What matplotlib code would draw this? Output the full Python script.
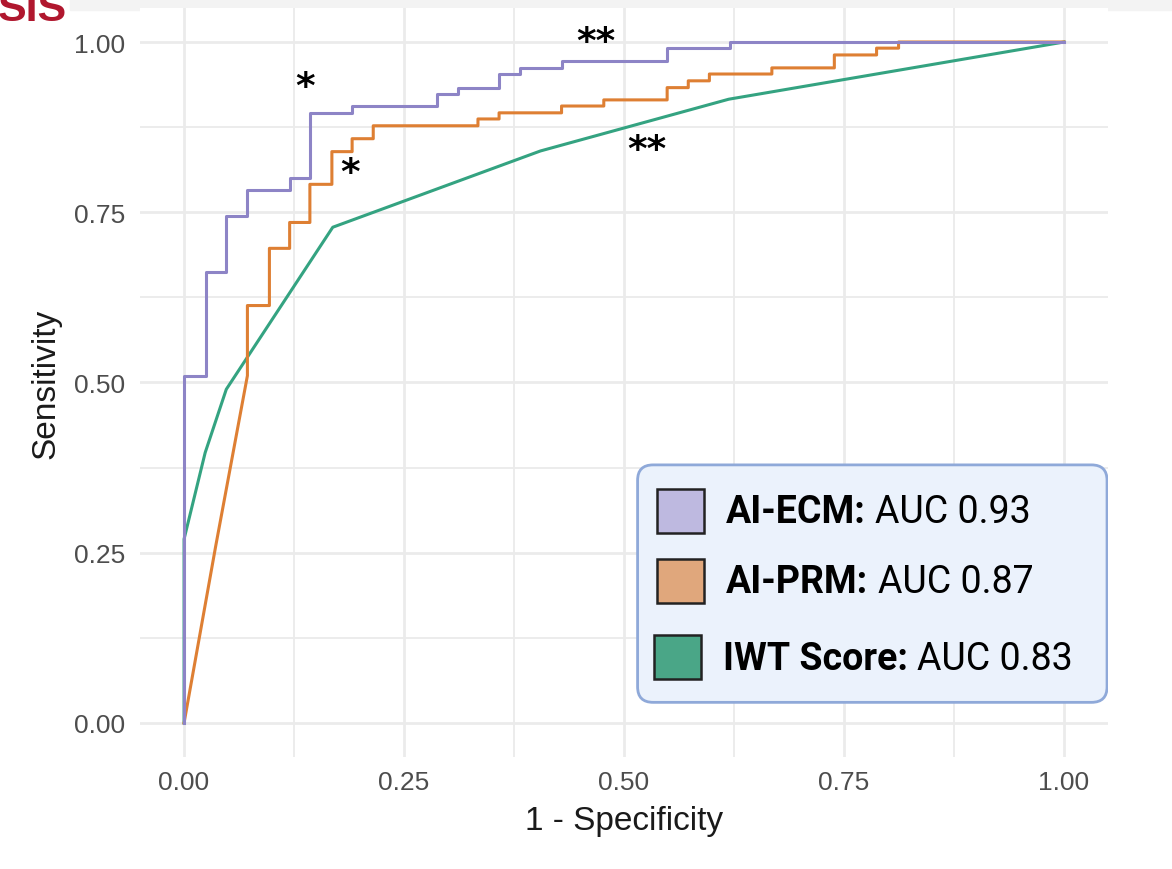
import matplotlib
matplotlib.use("Agg")
import matplotlib.pyplot as plt
from matplotlib.patches import FancyBboxPatch, Rectangle

# ROC curve vertices (1 - specificity, sensitivity)
ecm_fpr = [0, 0, 0.025, 0.025, 0.048, 0.048, 0.072, 0.072, 0.12, 0.12, 0.143, 0.143,
           0.191, 0.191, 0.287, 0.287, 0.311, 0.311, 0.358, 0.358, 0.382, 0.382,
           0.429, 0.429, 0.549, 0.549, 0.62, 0.62, 1.0]
ecm_tpr = [0, 0.51, 0.51, 0.662, 0.662, 0.745, 0.745, 0.783, 0.783, 0.801, 0.801, 0.896,
           0.896, 0.906, 0.906, 0.924, 0.924, 0.933, 0.933, 0.953, 0.953, 0.962,
           0.962, 0.972, 0.972, 0.991, 0.991, 1.0, 1.0]

prm_fpr = [0, 0.036, 0.072, 0.072, 0.097, 0.097, 0.12, 0.12, 0.143, 0.143, 0.168, 0.168,
           0.191, 0.191, 0.215, 0.215, 0.334, 0.334, 0.358, 0.358, 0.429, 0.429,
           0.477, 0.477, 0.549, 0.549, 0.573, 0.573, 0.597, 0.597, 0.668, 0.668,
           0.739, 0.739, 0.787, 0.787, 0.812, 0.812, 1.0]
prm_tpr = [0, 0.26, 0.51, 0.613, 0.613, 0.697, 0.697, 0.735, 0.735, 0.791, 0.791, 0.839,
           0.839, 0.858, 0.858, 0.877, 0.877, 0.887, 0.887, 0.896, 0.896, 0.906,
           0.906, 0.915, 0.915, 0.933, 0.933, 0.943, 0.943, 0.953, 0.953, 0.962,
           0.962, 0.981, 0.981, 0.991, 0.991, 1.0, 1.0]

iwt_fpr = [0, 0, 0.024, 0.048, 0.169, 0.405, 0.619, 1.0]
iwt_tpr = [0, 0.27, 0.397, 0.49, 0.728, 0.84, 0.916, 1.0]

names = ["AI-ECM:", "AI-PRM:", "IWT Score:"]
aucs = ["AUC 0.93", "AUC 0.87", "AUC 0.83"]
line_colors = ["#8D84C6", "#DE7F33", "#34A381"]
fill_colors = ["#BEB9E0", "#E0A77C", "#4AA687"]

# significance marks: (x, y, text)
stars = [(0.1375, 0.934, "*"), (0.189, 0.807, "*"),
         (0.468, 1.0, "**"), (0.526, 0.841, "**")]

ticks = [0, 0.25, 0.5, 0.75, 1.0]
tick_labels = ["0.00", "0.25", "0.50", "0.75", "1.00"]

plt.rcParams['font.family'] = ['Liberation Sans', 'DejaVu Sans']

fig = plt.figure(figsize=(11.72, 8.70), dpi=100)
ax = fig.add_axes([0.1195, 0.1287, 0.8259, 0.861])

# slide remnants at the top
fig.patches.append(Rectangle((0.06, 0.987), 0.94, 0.013, transform=fig.transFigure,
                             color="#F3F3F3", zorder=-5))
fig.text(-0.002, 1 - 21 / 870, "SIS", fontsize=31, fontweight="bold",
         color="#B0172E", va="baseline", ha="left")

ax.plot(iwt_fpr, iwt_tpr, color=line_colors[2], lw=2.2, zorder=3)
ax.plot(prm_fpr, prm_tpr, color=line_colors[1], lw=2.2, zorder=4)
ax.plot(ecm_fpr, ecm_tpr, color=line_colors[0], lw=2.2, zorder=5)

for x, y, s in stars:
    ax.text(x, y, s, fontsize=27, fontweight="bold", ha="center", va="center",
            family="DejaVu Sans", zorder=6)

ax.set_xlim(-0.05, 1.05)
ax.set_ylim(-0.05, 1.05)
ax.set_xticks(ticks)
ax.set_xticklabels(tick_labels)
ax.set_yticks(ticks)
ax.set_yticklabels(tick_labels)
ax.set_xticks([0.125, 0.375, 0.625, 0.875], minor=True)
ax.set_yticks([0.125, 0.375, 0.625, 0.875], minor=True)
ax.grid(which="major", color="#EBEBEB", lw=2.0)
ax.grid(which="minor", color="#EBEBEB", lw=1.3)
ax.set_axisbelow(True)
for sp in ax.spines.values():
    sp.set_visible(False)
ax.tick_params(which="both", length=0)
ax.tick_params(axis="x", labelsize=19, labelcolor="#4D4D4D", pad=9)
ax.tick_params(axis="y", labelsize=19, labelcolor="#4D4D4D", pad=11)
ax.set_xlabel("1 - Specificity", fontsize=24, color="#1A1A1A", labelpad=8)
ax.set_ylabel("Sensitivity", fontsize=24, color="#1A1A1A", labelpad=9)

# legend box
box = FancyBboxPatch((0.514, 0.073), 0.485, 0.317, transform=ax.transAxes,
                     boxstyle="round,pad=0,rounding_size=0.016", mutation_aspect=968 / 749,
                     facecolor="#EBF2FC", edgecolor="#8FA9D9", lw=2, zorder=7)
ax.add_patch(box)
sq_x = [0.534, 0.534, 0.531]
sq_y = [0.299, 0.2056, 0.104]
base_y = [0.3134, 0.2199, 0.1179]
txt_x = [0.605, 0.605, 0.602]
for i in range(3):
    ax.add_patch(Rectangle((sq_x[i], sq_y[i]), 0.0486, 0.059, transform=ax.transAxes,
                           facecolor=fill_colors[i], edgecolor="#222222", lw=1.8, zorder=8))
    t = ax.text(txt_x[i], base_y[i], names[i], transform=ax.transAxes, fontsize=27,
                fontweight="bold", family="Roboto", va="baseline", ha="left", zorder=8)
    ax.annotate(aucs[i], xy=(1, 0), xycoords=t, xytext=(7, 0), textcoords="offset points",
                fontsize=27, family="Roboto", va="bottom", ha="left", zorder=8)

fig.savefig("out.png", dpi=100)
